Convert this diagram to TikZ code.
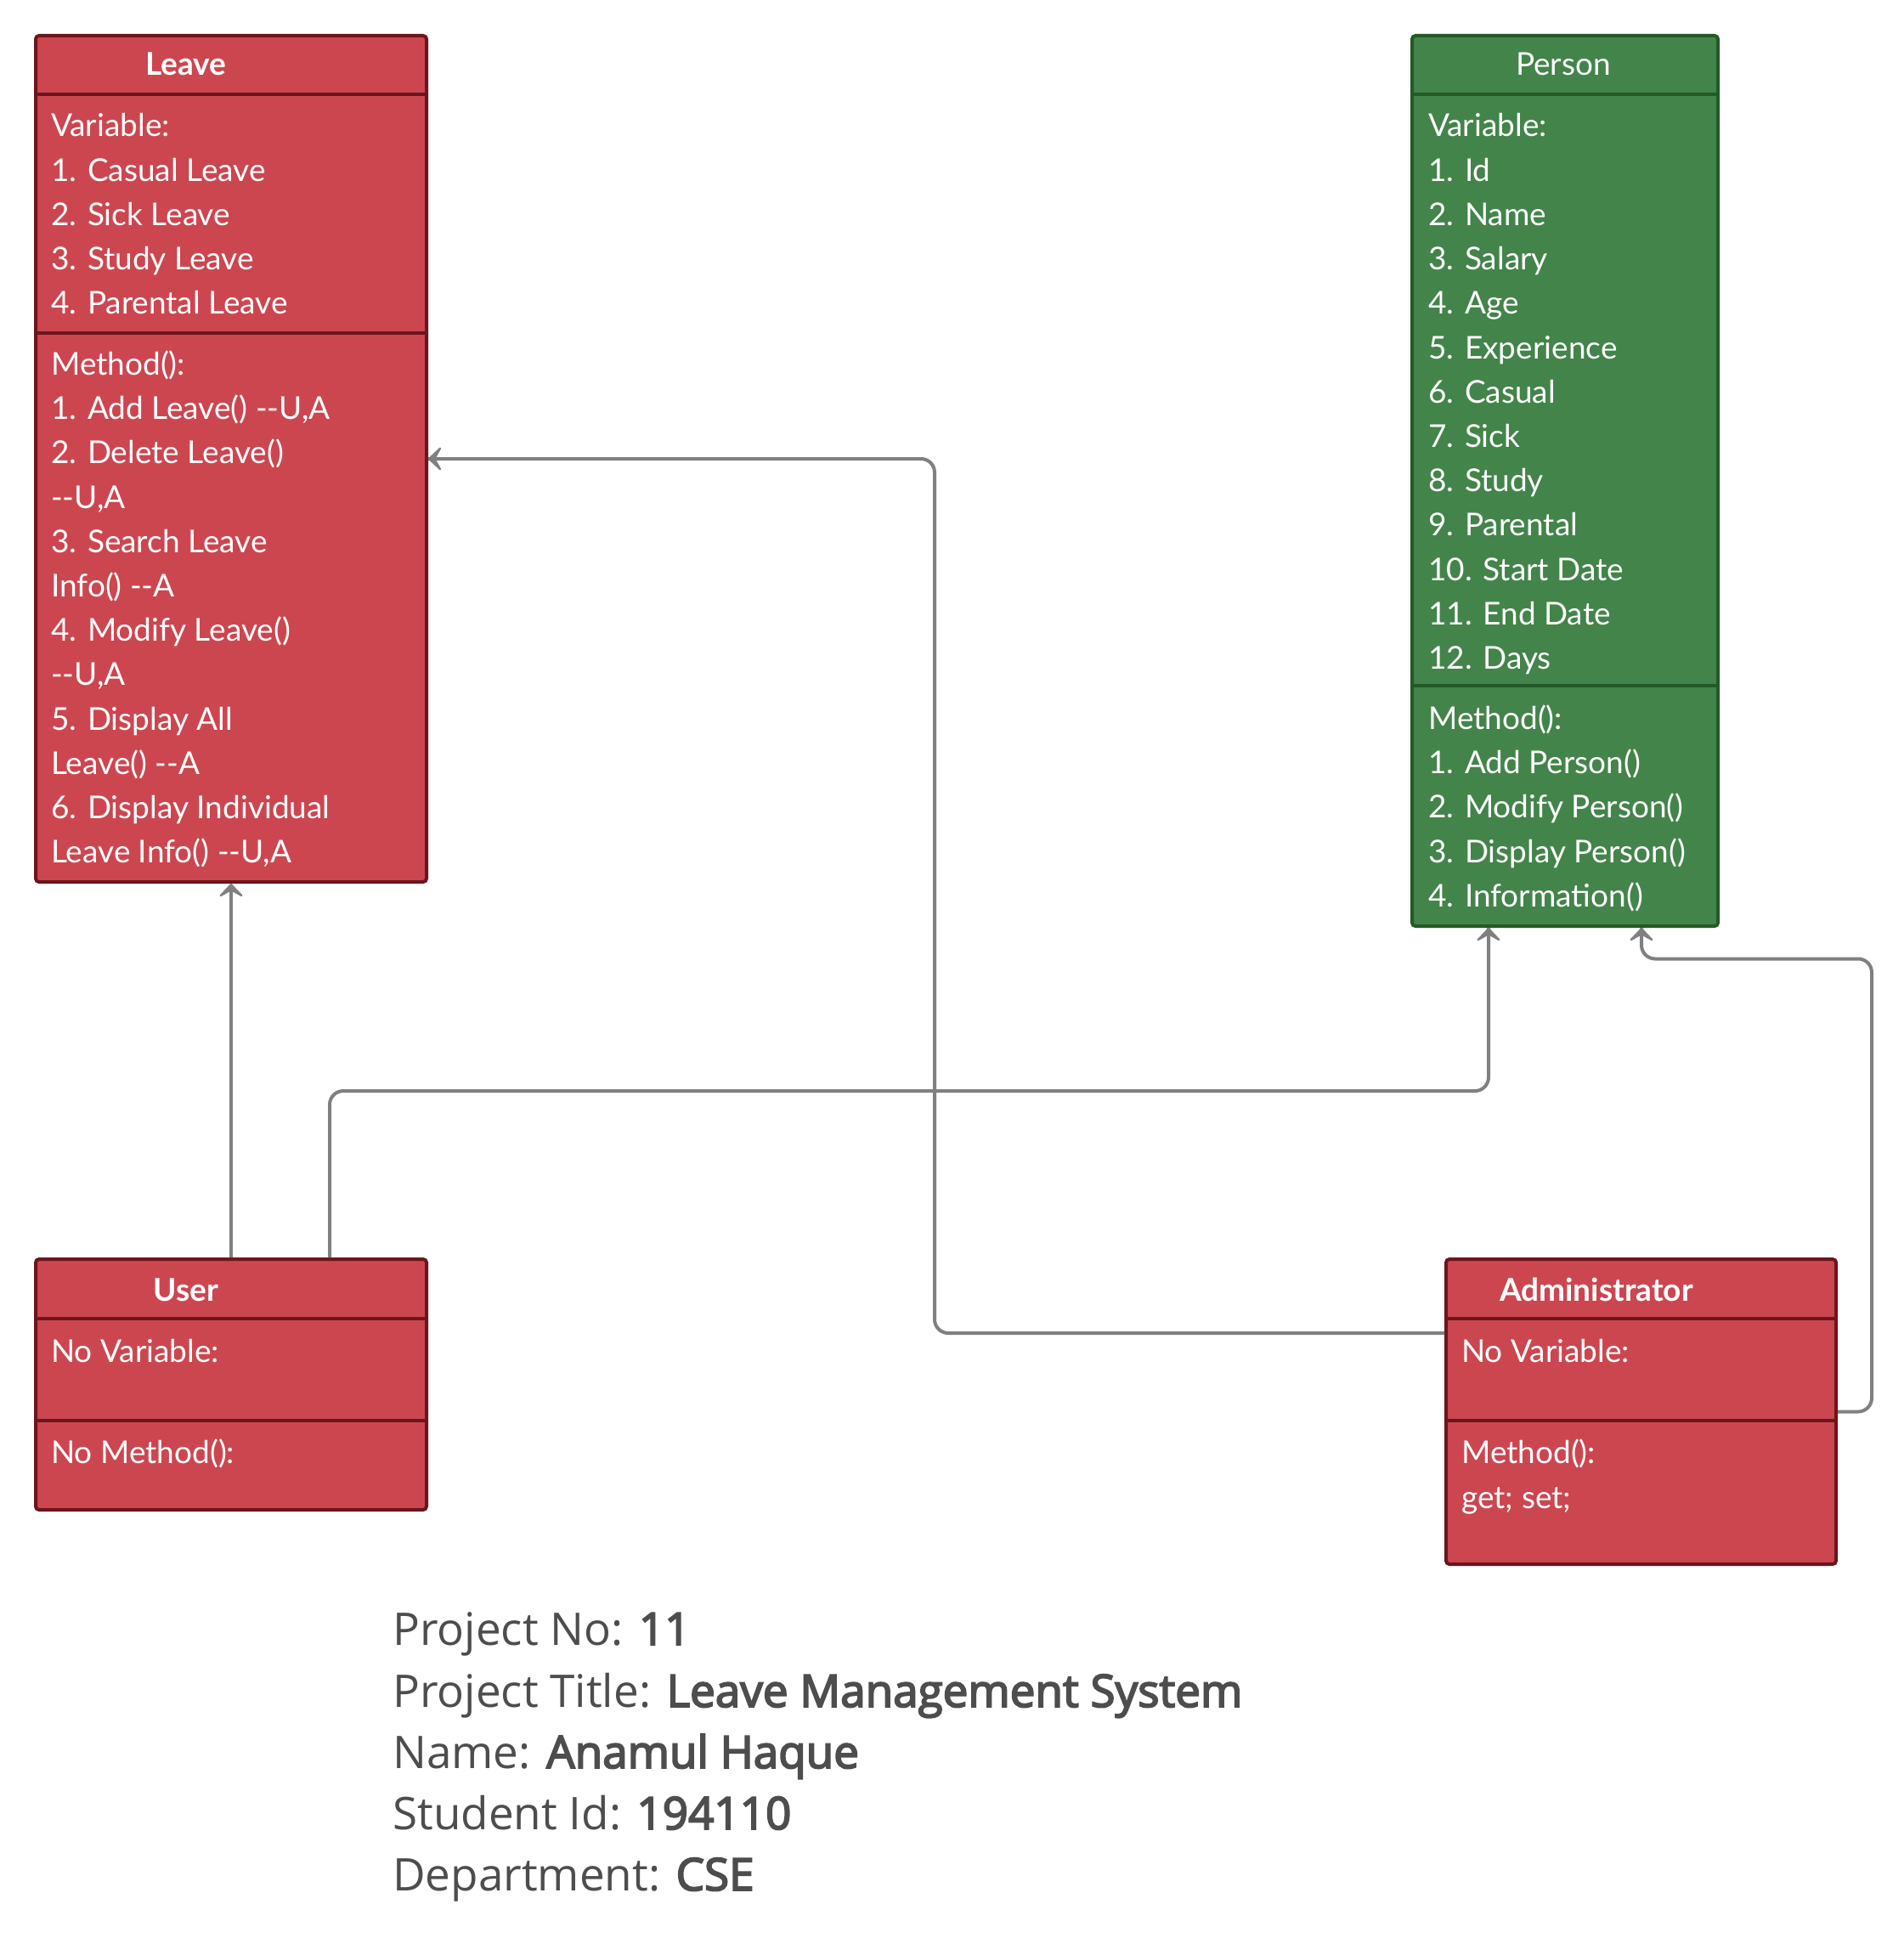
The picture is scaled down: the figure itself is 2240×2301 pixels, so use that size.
\documentclass[tikz,border=0pt]{standalone}
\usepackage{fontspec}
\setmainfont{Lato}[Ligatures=TeXOff]
\newfontfamily\footfont{Open Sans}[BoldFont={Open Sans}, BoldFeatures={FakeBold=3.5}]
\usetikzlibrary{arrows.meta,calc}
\definecolor{redfill}{RGB}{204,70,80}
\definecolor{redline}{RGB}{107,22,28}
\definecolor{greenfill}{RGB}{67,132,74}
\definecolor{greenline}{RGB}{35,90,40}
\definecolor{conncol}{RGB}{128,128,128}
\definecolor{footgray}{RGB}{77,77,77}
\begin{document}
\begin{tikzpicture}[
  redbox/.style={draw=redline, fill=redfill, line width=4pt, rounded corners=4pt, inner sep=0pt, anchor=north west},
  greenbox/.style={draw=greenline, fill=greenfill, line width=4pt, rounded corners=4pt, inner sep=0pt, anchor=north west},
  divr/.style={draw=redline, line width=4pt},
  divg/.style={draw=greenline, line width=4pt},
  txt/.style={anchor=base west, inner sep=0pt, text=white, font=\fontsize{37}{44}\selectfont},
  hdr/.style={anchor=base, inner sep=0pt, text=white, font=\bfseries\fontsize{37}{44}\selectfont},
  hdrr/.style={anchor=base, inner sep=0pt, text=white, font=\fontsize{37}{44}\selectfont},
  foot/.style={anchor=base west, inner sep=0pt, text=footgray, font=\footfont\fontsize{53}{64}\selectfont},
  connline/.style={draw=conncol, line width=4pt, rounded corners=16pt},
  conntip/.style={draw=conncol, line width=4pt, sharp corners, -{Stealth[length=19pt,width=36pt,inset=10pt,round,line width=4pt]}}
]
\begin{scope}[x=1pt,y=-1pt]
\fill[white] (0,0) rectangle (2240,2301);
\useasboundingbox (0,0) rectangle (2240,2301);

% Leave
\node[redbox, minimum width=460pt, minimum height=996pt] (leave) at (40,40) {};
\draw[divr] (40,111) -- (500,111);
\draw[divr] (40,392) -- (500,392);
\node[hdr] (leaveh) at (219,89) {Leave};
\foreach \t [count=\i] in {{Variable:},{1. Casual Leave},{2. Sick Leave},{3. Study Leave},{4. Parental Leave}}
  \node[txt] (lv\i) at (60,{161+52.2*(\i-1)}) {\t};
\foreach \t [count=\i] in {{Method():},{1. Add Leave() --U,A},{2. Delete Leave()},{--U,A},{3. Search Leave},{Info() --A},{4. Modify Leave()},{--U,A},{5. Display All},{Leave() --A},{6. Display Individual},{Leave Info() --U,A}}
  \node[txt] (lm\i) at (60,{441.5+52.2*(\i-1)}) {\t};

% Person
\node[greenbox, minimum width=360pt, minimum height=1048pt] (person) at (1660,40) {};
\draw[divg] (1660,111) -- (2020,111);
\draw[divg] (1660,807) -- (2020,807);
\node[hdrr] (personh) at (1840,89) {Person};
\foreach \t [count=\i] in {{Variable:},{1. Id},{2. Name},{3. Salary},{4. Age},{5. Experience},{6. Casual},{7. Sick},{8. Study},{9. Parental},{10. Start Date},{11. End Date},{12. Days}}
  \node[txt] (pv\i) at (1681,{161+52.2*(\i-1)}) {\t};
\foreach \t [count=\i] in {{Method():},{1. Add Person()},{2. Modify Person()},{3. Display Person()},{4. Information()}}
  \node[txt] (pm\i) at (1681,{858.5+52.2*(\i-1)}) {\t};

% User
\node[redbox, minimum width=460pt, minimum height=295pt] (user) at (40,1480) {};
\draw[divr] (40,1552) -- (500,1552);
\draw[divr] (40,1672) -- (500,1672);
\node[hdr] (userh) at (219,1531) {User};
\node[txt] (uv) at (60,1603) {No Variable:};
\node[txt] (um) at (60,1722) {No Method():};

% Administrator
\node[redbox, minimum width=459pt, minimum height=359pt] (admin) at (1700,1480) {};
\draw[divr] (1700,1552) -- (2159,1552);
\draw[divr] (1700,1672) -- (2159,1672);
\node[hdr] (adminh) at (1879,1531) {Administrator};
\node[txt] (av) at (1720,1603) {No Variable:};
\node[txt] (am1) at (1720,1722) {Method():};
\node[txt] (am2) at (1720,1775) {get; set;};

% Connectors: rounded route, then a sharp final piece carrying the tip
\draw[conntip] (user.north) -- (leave.south);

\draw[connline] ($(user.north)+(116,0)$) -- ++(0,-196) -| ($(person.south)+(-90,0)$);
\draw[conntip] ($(person.south)+(-90,60)$) -- ($(person.south)+(-90,0)$);

\draw[connline] ($(admin.north west)+(0,89)$) -- ++(-600,0) |- (leave.east);
\draw[conntip] ($(leave.east)+(60,0)$) -- (leave.east);

\draw[connline] (admin.east) -- ++(40,0) -- ++(0,-533) -| ($(person.south)+(90,0)$);
\draw[conntip] ($(person.south)+(90,22)$) -- ($(person.south)+(90,0)$);

% Footer
\node[foot] (f1) at (462,1936) {Project No: \textbf{11}};
\node[foot] (f2) at (462,2009) {Project Title: \textbf{Leave Management System}};
\node[foot] (f3) at (462,2081) {Name: \textbf{Anamul Haque}};
\node[foot] (f4) at (462,2153) {Student Id: \textbf{194110}};
\node[foot] (f5) at (462,2225) {Department: \textbf{CSE}};
\end{scope}
\end{tikzpicture}
\end{document}
